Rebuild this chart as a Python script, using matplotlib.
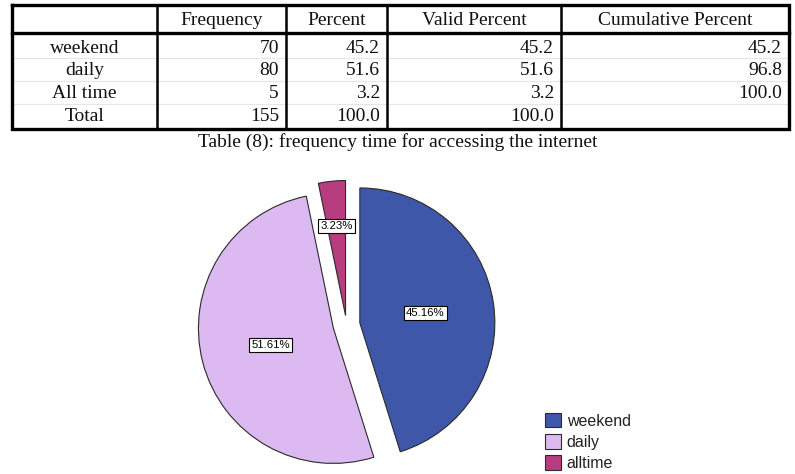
import matplotlib.pyplot as plt
import numpy as np

W, H = 795, 474

# table data
row_names = ['weekend', 'daily', 'All time']
frequency = [70, 80, 5]
percent = [45.2, 51.6, 3.2]
valid_percent = [45.2, 51.6, 3.2]
cumulative = [45.2, 96.8, 100.0]
total_freq = 155
total_pct = 100.0

columns = ['', 'Frequency', 'Percent', 'Valid Percent', 'Cumulative Percent']
caption = 'Table (8): frequency time for accessing the internet'

# pie
legend_labels = ['weekend', 'daily', 'alltime']
slice_colors = ['#3f57a9', '#dcb9f0', '#b83c80']

fig = plt.figure(figsize=(W / 100, H / 100), dpi=100)
ax = fig.add_axes([0, 0, 1, 1])

def fy(y):
    # image y (from top) -> axes y
    return H - y

serif = 'Liberation Serif'
sans = 'Liberation Sans'

# ---- table ----
col_x = [12, 157, 286, 387, 561, 789]
top, head_bot, bottom = 5, 33, 129
row_y = [48, 70, 93, 116]
head_y = 20

rows = []
for i in range(len(row_names)):
    rows.append([row_names[i], str(frequency[i]), '%.1f' % percent[i],
                 '%.1f' % valid_percent[i], '%.1f' % cumulative[i]])
rows.append(['Total', str(total_freq), '%.1f' % total_pct, '%.1f' % total_pct, ''])

# faint row separators
for y in [58, 81, 104]:
    ax.plot([col_x[0], col_x[-1]], [fy(y), fy(y)], color='#e6e6e6', lw=0.8, zorder=1)

# outer border + header line
ax.plot([col_x[0], col_x[-1], col_x[-1], col_x[0], col_x[0]],
        [fy(top), fy(top), fy(bottom), fy(bottom), fy(top)],
        color='black', lw=2.4, solid_joinstyle='miter', zorder=3)
ax.plot([col_x[0], col_x[-1]], [fy(head_bot), fy(head_bot)], color='black', lw=2.4, zorder=3)
for x in col_x[1:-1]:
    ax.plot([x, x], [fy(top), fy(bottom)], color='black', lw=1.8, zorder=3)

for j, name in enumerate(columns):
    if name:
        ax.text((col_x[j] + col_x[j + 1]) / 2, fy(head_y), name, ha='center', va='center',
                family=serif, fontsize=14, color='#111111')

for i, row in enumerate(rows):
    for j, val in enumerate(row):
        if j == 0:
            ax.text((col_x[0] + col_x[1]) / 2, fy(row_y[i]), val, ha='center', va='center',
                    family=serif, fontsize=14, color='#111111')
        else:
            ax.text(col_x[j + 1] - 7, fy(row_y[i]), val, ha='right', va='center',
                    family=serif, fontsize=14, color='#111111')

ax.text(398, fy(142), caption, ha='center', va='center', family=serif, fontsize=14,
        color='#111111')

# ---- pie ----
# explode is in data units here (pixels)
total = sum(frequency)
wedges, _ = ax.pie(frequency, colors=slice_colors, startangle=90, counterclock=False,
                   explode=[13.5, 13.5, 9.5], radius=135, center=(346.5, fy(325)),
                   wedgeprops=dict(edgecolor='#2a2a2a', linewidth=0.8), frame=True)

label_dist = [0.49, 0.48, 0.67]
for k, w in enumerate(wedges):
    ang = np.deg2rad((w.theta1 + w.theta2) / 2)
    cx, cy = w.center
    px = cx + label_dist[k] * w.r * np.cos(ang)
    py = cy + label_dist[k] * w.r * np.sin(ang)
    ax.text(px, py, '%.2f%%' % (100.0 * frequency[k] / total), ha='center', va='center',
            family=sans, fontsize=8.2, color='black',
            bbox=dict(boxstyle='square,pad=0.18', facecolor='white', edgecolor='black',
                      linewidth=0.8))

leg = ax.legend(wedges, legend_labels, loc='upper left', bbox_to_anchor=(545, fy(413)),
                bbox_transform=ax.transData, frameon=False, prop={'family': sans, 'size': 11.5},
                handlelength=1.0, handleheight=1.0, handletextpad=0.35, labelspacing=0.35,
                borderpad=0, borderaxespad=0)
for t in leg.get_texts():
    t.set_color('#222222')

ax.set_xlim(0, W)
ax.set_ylim(0, H)
ax.set_aspect('equal')
ax.axis('off')

fig.savefig('out.png', dpi=100)
